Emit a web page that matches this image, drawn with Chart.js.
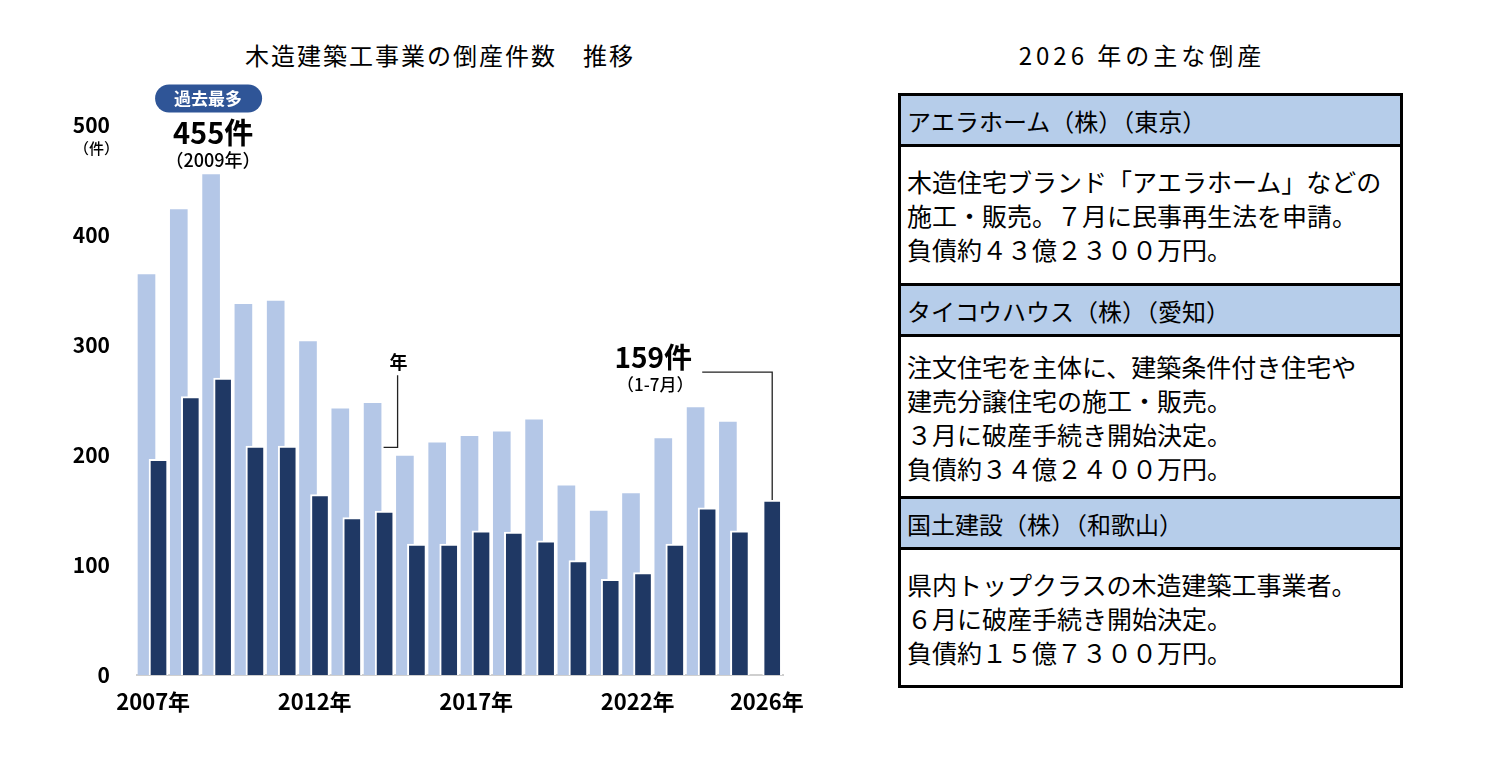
<!DOCTYPE html>
<html lang="ja">
<head>
<meta charset="utf-8">
<script src="https://cdn.jsdelivr.net/npm/chart.js@4.4.1/dist/chart.umd.min.js"></script>
<style>
  html, body { margin: 0; padding: 0; background: #fff; }
  body { width: 1510px; height: 764px; position: relative; overflow: hidden; font-family: "Noto Sans CJK JP", sans-serif; color: #000; }
  #chartBox { position: absolute; left: 0; top: 0; width: 860px; height: 764px; }
  .title { position: absolute; top: 38px; line-height: 34px; text-align: center; font-size: 24px; }
  #leftTitle { left: 240px; width: 400px; letter-spacing: 2px; }
  #rightTitle { left: 940px; width: 404px; letter-spacing: 4px; }
  #cases { position: absolute; left: 898px; top: 93px; width: 505px; box-sizing: border-box; border: 3px solid #000; }
  #cases .head { height: 48px; background: #b6cdea; border-bottom: 3px solid #000; font-size: 24px; display: flex; align-items: center; padding-left: 6px; }
  #cases .body { border-bottom: 3px solid #000; font-size: 25px; line-height: 34px; display: flex; flex-direction: column; justify-content: center; padding-left: 6px; }
  #cases .body:last-child { border-bottom: none; }
</style>
</head>
<body>
<div id="leftTitle" class="title">木造建築工事業の倒産件数　推移</div>
<div id="rightTitle" class="title">2026 年の主な倒産</div>
<div id="chartBox"><canvas id="chart"></canvas></div>
<div id="cases"></div>

<script>
const years = [2007, 2008, 2009, 2010, 2011, 2012, 2013, 2014, 2015, 2016,
               2017, 2018, 2019, 2020, 2021, 2022, 2023, 2024, 2025, 2026];
// 年間の倒産件数（2026年はまだなし）
const fullYearCounts = [364, 423, 455, 337, 340, 303, 242, 247, 199, 211,
                        217, 221, 232, 172, 149, 165, 215, 243, 230, null];
// 1-7月の倒産件数
const janJulCounts = [196, 253, 270, 208, 208, 164, 143, 149, 119, 119,
                      131, 130, 122, 104, 87, 93, 119, 152, 131, 159];
const tickYears = [2007, 2012, 2017, 2022, 2026];
const yTicks = [0, 100, 200, 300, 400, 500];

const caseNames = ['アエラホーム（株）（東京）', 'タイコウハウス（株）（愛知）', '国土建設（株）（和歌山）'];
const caseTexts = [
  ['木造住宅ブランド「アエラホーム」などの', '施工・販売。７月に民事再生法を申請。', '負債約４３億２３００万円。'],
  ['注文住宅を主体に、建築条件付き住宅や', '建売分譲住宅の施工・販売。', '３月に破産手続き開始決定。', '負債約３４億２４００万円。'],
  ['県内トップクラスの木造建築工事業者。', '６月に破産手続き開始決定。', '負債約１５億７３００万円。']
];
const bodyHeights = [136, 159, 135];

const table = document.getElementById('cases');
caseNames.forEach((name, i) => {
  const h = document.createElement('div');
  h.className = 'head';
  h.textContent = name;
  const b = document.createElement('div');
  b.className = 'body';
  b.style.height = bodyHeights[i] + 'px';
  b.innerHTML = caseTexts[i].map(t => `<div>${t}</div>`).join('');
  table.appendChild(h);
  table.appendChild(b);
});

Chart.defaults.font.family = '"Noto Sans CJK JP", sans-serif';
Chart.defaults.color = '#000';

const LIGHT = '#b4c7e7';
const DARK = '#1f3864';
const xMin = years[0] - 0.5, xMax = years[years.length - 1] + 0.5;

const notes = {
  id: 'notes',
  afterDraw(chart) {
    const { ctx, scales } = chart;
    const { xl, xd, y } = scales;
    const font = (w, s) => `${w} ${s}px "Noto Sans CJK JP", sans-serif`;
    ctx.save();
    ctx.fillStyle = '#000';
    ctx.textBaseline = 'middle';

    // (件) under the 500 tick
    ctx.textAlign = 'right';
    ctx.font = font(500, 15);
    ctx.fillText('（件）', 119, y.getPixelForValue(500) + 23);

    // peak 2009
    const i09 = years.indexOf(2009);
    const px = xl.getPixelForValue(2009);
    const top = y.getPixelForValue(fullYearCounts[i09]);
    ctx.fillStyle = '#2f5597';
    ctx.beginPath();
    ctx.roundRect(px - 56, top - 90, 107, 28, 14);
    ctx.fill();
    ctx.fillStyle = '#fff';
    ctx.textAlign = 'center';
    ctx.font = font(700, 17);
    ctx.fillText('過去最多', px - 3, top - 76);
    ctx.fillStyle = '#000';
    ctx.font = font(700, 29);
    ctx.fillText(fullYearCounts[i09] + '件', px + 2, top - 42);
    ctx.font = font(500, 18);
    ctx.fillText('（2009年）', px + 2, top - 14);

    // 2014 note
    const i14 = years.indexOf(2014);
    const ex = xl.getPixelForValue(2014) + 9;
    const ey = y.getPixelForValue(fullYearCounts[i14]) + 44;
    ctx.strokeStyle = '#222';
    ctx.lineWidth = 1.3;
    ctx.beginPath();
    ctx.moveTo(ex + 2, ey);
    ctx.lineTo(ex + 16, ey);
    ctx.lineTo(ex + 16, ey - 72);
    ctx.stroke();
    ctx.font = font(700, 18);
    ctx.fillText('年', ex + 17, ey - 85);

    // 2026 (Jan-Jul)
    const i26 = years.indexOf(2026);
    const bx = xd.getPixelForValue(2026);
    const by = y.getPixelForValue(janJulCounts[i26]);
    const ly = by - 128;
    ctx.beginPath();
    ctx.moveTo(bx - 70, ly);
    ctx.lineTo(bx, ly);
    ctx.lineTo(bx, by);
    ctx.stroke();
    ctx.font = font(700, 28);
    ctx.fillText(janJulCounts[i26] + '件', bx - 119, ly - 15);
    ctx.font = font(500, 17);
    ctx.fillText('（1-7月）', bx - 117, ly + 12);
    ctx.restore();
  }
};

new Chart(document.getElementById('chart'), {
  type: 'bar',
  data: {
    datasets: [
      {
        label: '1-7月',
        data: years.map((yr, i) => ({ x: yr, y: janJulCounts[i] })),
        xAxisID: 'xd',
        backgroundColor: DARK,
        borderColor: '#fff',
        borderWidth: { top: 2, left: 2, right: 2, bottom: 0 },
        barThickness: 19,
        grouped: false,
        order: 0
      },
      {
        label: '年間',
        data: years.map((yr, i) => ({ x: yr, y: fullYearCounts[i] })),
        xAxisID: 'xl',
        backgroundColor: LIGHT,
        borderWidth: 0,
        barThickness: 17,
        grouped: false,
        order: 1
      }
    ]
  },
  options: {
    responsive: true,
    maintainAspectRatio: false,
    animation: false,
    layout: { padding: { left: 0, right: 77, top: 125, bottom: 39 } },
    plugins: { legend: { display: false }, tooltip: { enabled: false } },
    scales: {
      x: {
        type: 'linear',
        min: xMin, max: xMax,
        offset: false,
        grid: { display: false },
        border: { display: true, color: '#cfcfcf', width: 2 },
        afterBuildTicks: s => { s.ticks = tickYears.map(v => ({ value: v })); },
        afterFit: s => { s.height = 50; },
        ticks: {
          autoSkip: false, maxRotation: 0, padding: 5,
          font: { size: 22, weight: 700 },
          callback: v => v + '年'
        }
      },
      xl: { type: 'linear', display: false, offset: false, min: xMin + 0.206, max: xMax + 0.206 },
      xd: { type: 'linear', display: false, offset: false, min: xMin - 0.166, max: xMax - 0.166 },
      y: {
        min: 0, max: 500,
        grid: { display: false },
        border: { display: false },
        afterBuildTicks: s => { s.ticks = yTicks.map(v => ({ value: v })); },
        afterFit: s => { s.width = 137; },
        ticks: { padding: 19, font: { size: 21, weight: 600 } }
      }
    }
  },
  plugins: [notes]
});
</script>
</body>
</html>
